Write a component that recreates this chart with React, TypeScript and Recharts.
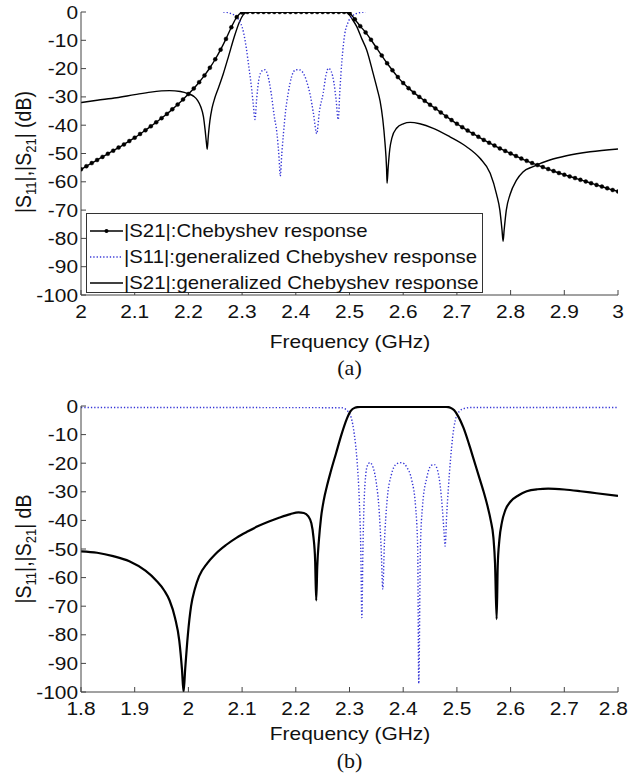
import React from 'react';
import { LineChart, Line, XAxis, YAxis, Legend } from 'recharts';

// ---------- panel (a): 2 – 3 GHz ----------
const freqChebA = [
  2.0, 2.01, 2.02, 2.03, 2.04, 2.05, 2.06, 2.07, 2.08, 2.09,
  2.1, 2.11, 2.12, 2.13, 2.14, 2.15, 2.16, 2.17, 2.18, 2.19,
  2.2, 2.21, 2.22, 2.23, 2.24, 2.25, 2.26, 2.27, 2.28, 2.29,
  2.3, 2.31, 2.32, 2.33, 2.34, 2.35, 2.36, 2.37, 2.38, 2.39,
  2.4, 2.41, 2.42, 2.43, 2.44, 2.45, 2.46, 2.47, 2.48, 2.49,
  2.5, 2.51, 2.52, 2.53, 2.54, 2.55, 2.56, 2.57, 2.58, 2.59,
  2.6, 2.61, 2.62, 2.63, 2.64, 2.65, 2.66, 2.67, 2.68, 2.69,
  2.7, 2.71, 2.72, 2.73, 2.74, 2.75, 2.76, 2.77, 2.78, 2.79,
  2.8, 2.81, 2.82, 2.83, 2.84, 2.85, 2.86, 2.87, 2.88, 2.89,
  2.9, 2.91, 2.92, 2.93, 2.94, 2.95, 2.96, 2.97, 2.98, 2.99, 3.0,
];
const s21ChebA = [
  -55.6, -54.5, -53.4, -52.3, -51.2, -50.1, -49.0, -47.9, -46.8, -45.6,
  -44.4, -43.1, -41.8, -40.4, -39.0, -37.5, -36.0, -34.4, -32.7, -30.9,
  -29.0, -27.0, -24.8, -22.4, -19.7, -16.7, -13.3, -9.5, -5.4, -1.8,
  -0.2, 0, 0, 0, 0, 0, 0, 0, 0, 0,
  0, 0, 0, 0, 0, 0, 0, 0, 0, 0,
  -0.4, -2.6, -5.0, -7.2, -9.8, -12.6, -15.4, -18.1, -20.6, -23.0,
  -25.1, -26.9, -28.5, -30.0, -31.4, -32.8, -34.1, -35.5, -36.9, -38.2,
  -39.5, -40.7, -41.9, -43.0, -44.1, -45.2, -46.2, -47.2, -48.2, -49.1,
  -50.0, -50.9, -51.8, -52.6, -53.4, -54.1, -54.8, -55.5, -56.2, -56.9,
  -57.5, -58.1, -58.7, -59.3, -59.9, -60.5, -61.1, -61.7, -62.3, -62.9, -63.4,
];

const freqGenA = [
  2.0, 2.03, 2.066, 2.1, 2.13, 2.165, 2.185, 2.2, 2.21, 2.217, 2.223, 2.228,
  2.231, 2.234, 2.235, 2.237, 2.24, 2.244, 2.249, 2.255, 2.265, 2.275, 2.285,
  2.295, 2.302, 2.31, 2.49, 2.497, 2.505, 2.513, 2.523, 2.532, 2.544, 2.552,
  2.557, 2.562, 2.566, 2.569, 2.57, 2.572, 2.575, 2.579, 2.588, 2.6, 2.613,
  2.631, 2.656, 2.687, 2.718, 2.743, 2.762, 2.774, 2.78, 2.784, 2.786, 2.788,
  2.792, 2.799, 2.811, 2.823, 2.842, 2.873, 2.904, 2.948, 3.0,
];
const s21GenA = [
  -32.0, -31.2, -30.3, -29.2, -28.3, -27.8, -28.1, -28.9, -29.8, -31.2, -33.5, -37.0,
  -41.5, -47.0, -48.5, -44.0, -38.5, -34.0, -30.5, -27.3, -21.8, -15.5, -9.0,
  -3.5, -1.0, 0, 0, -0.4, -2.5, -5.0, -9.5, -13.4, -21.7, -27.5,
  -31.5, -38, -46, -55, -60.5, -55, -48.5, -44.5, -41.0, -39.5, -39.0,
  -39.5, -41.1, -44.1, -47.6, -51.7, -57.0, -64.5, -70, -77, -81, -77,
  -70, -64.5, -59.4, -56.5, -54.6, -52.3, -50.8, -49.4, -48.4,
];

const freqS11A = [
  2.265, 2.28, 2.29, 2.297, 2.303, 2.308, 2.313, 2.318, 2.321, 2.324, 2.327,
  2.331, 2.337, 2.342, 2.348, 2.354, 2.36, 2.365, 2.369, 2.371, 2.374, 2.377,
  2.381, 2.386, 2.392, 2.4, 2.408, 2.415, 2.421, 2.427, 2.433, 2.439, 2.444,
  2.451, 2.456, 2.461, 2.466, 2.471, 2.475, 2.479, 2.482, 2.486, 2.491, 2.497,
  2.505, 2.517, 2.53,
];
const s11GenA = [
  0, -0.6, -1.8, -3.8, -7.5, -13, -20, -27.5, -33, -38, -31,
  -24, -20.8, -20.4, -22.5, -28.5, -37, -43, -52, -58, -50, -43,
  -35, -28.5, -23, -20.4, -20.5, -22, -25, -29.5, -36, -43, -35,
  -28.7, -22.5, -19.9, -21, -25, -31, -38, -28, -17, -8, -3.8,
  -1.5, -0.3, 0,
];

// ---------- panel (b): 1.8 – 2.8 GHz ----------
const freqS21B = [
  1.8, 1.83, 1.86, 1.89, 1.92, 1.94, 1.955, 1.965, 1.975, 1.983, 1.988, 1.991,
  1.994, 1.999, 2.005, 2.012, 2.02, 2.035, 2.05, 2.07, 2.09, 2.11, 2.13, 2.15,
  2.17, 2.19, 2.205, 2.215, 2.223, 2.229, 2.233, 2.236, 2.238, 2.24, 2.243,
  2.247, 2.252, 2.258, 2.265, 2.275, 2.285, 2.295, 2.302, 2.31, 2.32, 2.48,
  2.488, 2.495, 2.503, 2.512, 2.522, 2.531, 2.54, 2.549, 2.557, 2.563, 2.568,
  2.571, 2.574, 2.576, 2.579, 2.584, 2.59, 2.6, 2.615, 2.63, 2.65, 2.67, 2.7,
  2.73, 2.76, 2.8,
];
const s21B = [
  -50.8, -51.3, -52.5, -54.3, -57.6, -61, -64.5, -68, -74, -82, -92, -100,
  -92, -80, -70, -64, -59.5, -55, -51.8, -48.6, -46.0, -43.9, -42.0, -40.4,
  -39.0, -37.8, -37.2, -37.4, -38.5, -41, -46, -54, -68, -56, -47,
  -39, -33, -28, -23, -16.5, -10, -4.5, -1.8, -0.6, -0.3, -0.3,
  -0.6, -1.5, -3.8, -7.5, -13, -18.5, -24, -29.5, -35, -40, -46,
  -55, -74.5, -56, -47, -40.5, -36.5, -33.4, -31.2, -29.8, -29.1, -28.9, -29.2,
  -29.8, -30.5, -31.4,
];

const freqS11B = [
  1.8, 2.285, 2.295, 2.303, 2.309, 2.314, 2.318, 2.321, 2.323, 2.325, 2.328,
  2.333, 2.338, 2.344, 2.35, 2.355, 2.359, 2.362, 2.365, 2.37, 2.378, 2.388,
  2.397, 2.407, 2.416, 2.423, 2.427, 2.429, 2.432, 2.436, 2.444, 2.452, 2.458,
  2.464, 2.469, 2.473, 2.476, 2.478, 2.481, 2.484, 2.488, 2.492, 2.497, 2.505,
  2.515, 2.53, 2.8,
];
const s11B = [
  -0.5, -0.6, -1.5, -4, -10, -19, -32, -50, -74, -50, -30,
  -21, -19.8, -21.5, -27, -36, -50, -64, -48, -33, -24, -20.2,
  -19.8, -21.5, -26, -35, -50, -97, -50, -35, -25, -20.8, -20.5,
  -22.5, -28, -36, -44, -49, -38, -29, -19, -11, -5, -1.8,
  -0.8, -0.5, -0.5,
];

const ticksA = [2, 2.1, 2.2, 2.3, 2.4, 2.5, 2.6, 2.7, 2.8, 2.9, 3];
const ticksB = [1.8, 1.9, 2, 2.1, 2.2, 2.3, 2.4, 2.5, 2.6, 2.7, 2.8];
const dbTicks = [-100, -90, -80, -70, -60, -50, -40, -30, -20, -10, 0];

const SANS = '"Liberation Sans", Arial, sans-serif';
const SERIF = '"Liberation Serif", "Times New Roman", serif';
const BLUE = '#3434d6';
const AXIS = '#444';
const FONT = 18.5;
const STRETCH = 1.13; // the source figure is a little wider than tall

const zip = (xs: number[], ys: number[]) => xs.map((f, i) => ({ f, db: ys[i] }));

function WideTick(props: any) {
  const { x, y, payload, textAnchor, side } = props;
  const label = String(payload.value);
  let tx = x;
  if (side === 'x') {
    // keep the last label inside the page edge
    const half = (label.length * 0.5 * FONT * STRETCH) / 2;
    if (tx + half > 629) tx = 629 - half;
  }
  return (
    <text
      transform={`translate(${tx},${y}) scale(${STRETCH},1)`}
      textAnchor={textAnchor}
      dy={side === 'x' ? '0.71em' : '0.355em'}
      fill="#111"
      fontSize={FONT}
      fontFamily={SANS}
    >
      {label}
    </text>
  );
}

function renderAxes(domain: [number, number], ticks: number[]) {
  const blank = () => '';
  return [
    <XAxis
      key="xb"
      type="number"
      dataKey="f"
      domain={domain}
      ticks={ticks}
      interval={0}
      allowDataOverflow
      height={35}
      tickSize={-5}
      tickMargin={15}
      tick={<WideTick side="x" />}
      stroke={AXIS}
    />,
    <XAxis
      key="xt"
      xAxisId="top"
      orientation="top"
      type="number"
      dataKey="f"
      domain={domain}
      ticks={ticks}
      interval={0}
      allowDataOverflow
      height={0}
      tickSize={-5}
      tick={false}
      stroke={AXIS}
      tickFormatter={blank}
    />,
    <YAxis
      key="yl"
      type="number"
      domain={[-100, 0]}
      ticks={dbTicks}
      interval={0}
      allowDataOverflow
      width={81}
      tickSize={-5}
      tickMargin={8}
      tick={<WideTick side="y" />}
      stroke={AXIS}
    />,
    <YAxis
      key="yr"
      yAxisId="right"
      orientation="right"
      type="number"
      domain={[-100, 0]}
      ticks={dbTicks}
      interval={0}
      allowDataOverflow
      width={0}
      tickSize={-5}
      tick={false}
      stroke={AXIS}
      tickFormatter={blank}
    />,
  ];
}

const legendItems = [
  { name: '|S21|:Chebyshev response', kind: 'dot' },
  { name: '|S11|:generalized Chebyshev response', kind: 'dash' },
  { name: '|S21|:generalized Chebyshev response', kind: 'solid' },
];

function LegendBox() {
  return (
    <div
      style={{
        border: '1px solid #333',
        background: '#fff',
        width: 397,
        height: 80,
        boxSizing: 'border-box',
        padding: '4px 0 0 3px',
        fontFamily: SANS,
        fontSize: FONT,
        color: '#111',
      }}
    >
      {legendItems.map((it) => (
        <div key={it.name} style={{ display: 'flex', alignItems: 'center', height: 26, whiteSpace: 'nowrap' }}>
          <svg width={33} height={10} style={{ marginRight: 1, flex: 'none' }}>
            <line
              x1={0}
              y1={5}
              x2={33}
              y2={5}
              stroke={it.kind === 'dash' ? BLUE : '#000'}
              strokeWidth={it.kind === 'dash' ? 1.3 : 1.5}
              strokeDasharray={it.kind === 'dash' ? '1.3 2' : undefined}
            />
            {it.kind === 'dot' && <circle cx={16.5} cy={5} r={2} fill="#000" />}
          </svg>
          <span style={{ display: 'inline-block', transform: 'scaleX(1.1)', transformOrigin: 'left center' }}>
            {it.name}
          </span>
        </div>
      ))}
    </div>
  );
}

function YTitle({ top, suffix }: { top: number; suffix: string }) {
  return (
    <div
      style={{
        position: 'absolute',
        left: 25,
        top,
        transform: 'translate(-50%, -50%) rotate(-90deg) scaleY(1.1)',
        fontFamily: SANS,
        fontSize: 19.5,
        color: '#111',
        whiteSpace: 'nowrap',
      }}
    >
      |S<sub style={{ fontSize: 13 }}>11</sub>|,|S<sub style={{ fontSize: 13 }}>21</sub>| {suffix}
    </div>
  );
}

function Caption({ top, text, serif }: { top: number; text: string; serif?: boolean }) {
  return (
    <div
      style={{
        position: 'absolute',
        left: 349.5,
        top,
        transform: serif ? 'translate(-50%, -50%)' : `translate(-50%, -50%) scaleX(${STRETCH})`,
        fontFamily: serif ? SERIF : SANS,
        fontSize: serif ? 22 : FONT,
        color: '#111',
        whiteSpace: 'nowrap',
      }}
    >
      {text}
    </div>
  );
}

export default function App() {
  return (
    <div style={{ position: 'absolute', left: 0, top: 0, width: 631, height: 779, background: '#fff' }}>
      <div style={{ position: 'absolute', left: 0, top: 0 }}>
        <LineChart width={631} height={330} margin={{ top: 12, right: 13, bottom: 0, left: 0 }}>
          {renderAxes([2, 3], ticksA)}
          <Line
            data={zip(freqGenA, s21GenA)}
            dataKey="db"
            name="|S21|:generalized Chebyshev response"
            type="monotone"
            stroke="#000"
            strokeWidth={1.4}
            dot={false}
            activeDot={false}
            isAnimationActive={false}
          />
          <Line
            data={zip(freqS11A, s11GenA)}
            dataKey="db"
            name="|S11|:generalized Chebyshev response"
            type="monotone"
            stroke={BLUE}
            strokeWidth={1.4}
            strokeDasharray="1.3 2"
            dot={false}
            activeDot={false}
            isAnimationActive={false}
          />
          <Line
            data={zip(freqChebA, s21ChebA)}
            dataKey="db"
            name="|S21|:Chebyshev response"
            type="monotone"
            stroke="#000"
            strokeWidth={1.4}
            dot={{ r: 2, fill: '#000', stroke: '#000', strokeWidth: 0.4 }}
            activeDot={false}
            isAnimationActive={false}
          />
          <Legend
            layout="horizontal"
            verticalAlign="middle"
            align="center"
            content={() => <LegendBox />}
            wrapperStyle={{ left: 86, top: 213, width: 397, height: 80 }}
          />
        </LineChart>
      </div>
      <YTitle top={152} suffix="(dB)" />
      <Caption top={342} text="Frequency (GHz)" />
      <Caption top={368} text="(a)" serif />

      <div style={{ position: 'absolute', left: 0, top: 394 }}>
        <LineChart width={631} height={333} margin={{ top: 12, right: 13, bottom: 0, left: 0 }}>
          {renderAxes([1.8, 2.8], ticksB)}
          <Line
            data={zip(freqS11B, s11B)}
            dataKey="db"
            name="|S11|"
            type="monotone"
            stroke={BLUE}
            strokeWidth={1.4}
            strokeDasharray="1.3 2"
            dot={false}
            activeDot={false}
            isAnimationActive={false}
          />
          <Line
            data={zip(freqS21B, s21B)}
            dataKey="db"
            name="|S21|"
            type="monotone"
            stroke="#000"
            strokeWidth={2.2}
            dot={false}
            activeDot={false}
            isAnimationActive={false}
          />
        </LineChart>
      </div>
      <YTitle top={549} suffix="dB" />
      <Caption top={734} text="Frequency (GHz)" />
      <Caption top={761} text="(b)" serif />
    </div>
  );
}
